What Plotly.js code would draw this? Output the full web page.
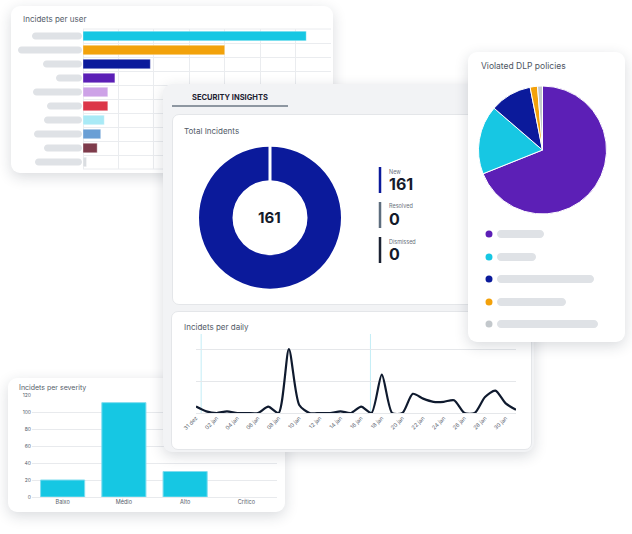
<!DOCTYPE html>
<html><head><meta charset="utf-8">
<script src="https://cdn.plot.ly/plotly-3.0.1.min.js"></script>
<style>
html,body{margin:0;padding:0;background:#fff;width:632px;height:534px;overflow:hidden;font-family:Inter,sans-serif;}
.card{position:absolute;background:#fff;border-radius:9px;box-shadow:0 4px 14px rgba(30,40,60,0.17);overflow:hidden;}
.inner{position:absolute;background:#fff;border-radius:7px;border:1px solid #e4e6e9;box-sizing:border-box;}
.plot{position:absolute;left:0;top:0;}
</style></head><body>
<div id="userCard" class="card" style="left:11px;top:6px;width:322px;height:167px;z-index:1"><div id="userPlot" class="plot"></div></div>
<div id="sevCard" class="card" style="left:8px;top:378px;width:277px;height:134px;z-index:2"><div id="sevPlot" class="plot"></div></div>
<div id="secCard" class="card" style="left:163px;top:84px;width:371px;height:368px;z-index:3;background:#f2f3f5">
  <div class="inner" style="left:9px;top:30px;width:360px;height:191px"></div>
  <div class="inner" style="left:8px;top:227px;width:361px;height:139px"></div>
  <div id="secPlot" class="plot"></div>
</div>
<div id="dlpCard" class="card" style="left:468px;top:52px;width:157px;height:290px;z-index:4"><div id="dlpPlot" class="plot"></div></div>
<script>
// ---------------- DATA ----------------
const userNames = ['Usuário 1','Usuário 2','Usuário 3','Usuário 4','Usuário 5','Usuário 6','Usuário 7','Usuário 8','Usuário 9','Usuário 10'];
const userIncidents = [63, 40, 19, 9, 7, 7, 6, 5, 4, 1];

const severityLevels = ['Baixo', 'Médio', 'Alto', 'Crítico'];
const severityCounts = [20, 111, 30, 0];

const statusLabels = ['New', 'Resolved', 'Dismissed'];
const statusCounts = [161, 0, 0];
const totalIncidents = 161;

const dlpPolicies = ['Política 1', 'Política 2', 'Política 3', 'Política 4', 'Política 5'];
const dlpCounts = [111, 28, 17, 3, 2];

const dayLabels = ['31 dez','01 jan','02 jan','03 jan','04 jan','05 jan','06 jan','07 jan','08 jan','09 jan',
  '10 jan','11 jan','12 jan','13 jan','14 jan','15 jan','16 jan','17 jan','18 jan','19 jan','20 jan',
  '21 jan','22 jan','23 jan','24 jan','25 jan','26 jan','27 jan','28 jan','29 jan','30 jan','31 jan'];
const dailyIncidents = [4, 1, 0, 1, 0, 0, 0, 4, 0, 40, 5, 0, 0, 0, 1, 0, 4, 0, 24, 0, 0, 12, 9, 7, 7, 8, 0, 0, 10, 14, 6, 2];

// ---------------- STYLE ----------------
const FONT = 'Inter, "Open Sans", sans-serif';
const userColors = ['#16c7e3','#f2a20b','#0b1a9b','#5b1fb6','#cda2e7','#dc3648','#a9eaf6','#6a9fd5','#7e3b4b','#dadde1'];
const userPillLen = [50, 64, 39, 26, 49, 35, 38, 48, 38, 47];
const statusColors = ['#0b1a9b', '#5d6d7e', '#1b2233'];
const dlpColors = ['#5c1fb6', '#17c7e3', '#0b1a9b', '#f3a10a', '#c3c8cc'];
const dlpPillEnd = [76, 68, 126, 98, 130];
const PILL = '#dfe2e6';
const GRID = '#eaecef';
const cfg = {staticPlot: true, displayModeBar: false};

function conv(W, H, m) {
  return {
    x: p => (p - m.l) / (W - m.l - m.r),
    y: p => 1 - (p - m.t) / (H - m.t - m.b)
  };
}
function note(c, px, py, text, size, color, o) {
  o = o || {};
  return Object.assign({xref: 'paper', yref: 'paper', x: c.x(px), y: c.y(py), text: text, showarrow: false,
    xanchor: 'left', yanchor: 'middle', font: {family: FONT, size: size, color: color, weight: o.weight || 400}}, o.extra || {});
}
function pill(c, x0, x1, yc, h, color) {
  const r = h / 2, L = x1 - x0, k = 0.552 * r;
  const f = v => v.toFixed(2);
  const path = 'M ' + f(r) + ',' + f(r) + ' L ' + f(L - r) + ',' + f(r) +
    ' C ' + f(L - r + k) + ',' + f(r) + ' ' + f(L) + ',' + f(k) + ' ' + f(L) + ',0' +
    ' C ' + f(L) + ',' + f(-k) + ' ' + f(L - r + k) + ',' + f(-r) + ' ' + f(L - r) + ',' + f(-r) +
    ' L ' + f(r) + ',' + f(-r) +
    ' C ' + f(r - k) + ',' + f(-r) + ' 0,' + f(-k) + ' 0,0' +
    ' C 0,' + f(k) + ' ' + f(r - k) + ',' + f(r) + ' ' + f(r) + ',' + f(r) + ' Z';
  return {type: 'path', xref: 'paper', yref: 'paper', xsizemode: 'pixel', ysizemode: 'pixel',
    xanchor: c.x(x0), yanchor: c.y(yc), path: path, fillcolor: color, line: {width: 0}, layer: 'above'};
}
function dot(c, xc, yc, r, color) {
  return {type: 'circle', xref: 'paper', yref: 'paper', xsizemode: 'pixel', ysizemode: 'pixel',
    xanchor: c.x(xc), yanchor: c.y(yc), x0: -r, x1: r, y0: -r, y1: r, fillcolor: color, line: {width: 0}, layer: 'above'};
}
const transparent = 'rgba(0,0,0,0)';

// ---------------- USER CARD ----------------
(function () {
  const W = 322, H = 167, m = {l: 72, r: 2, t: 23, b: 4};
  const c = conv(W, H, m);
  const rowH = (H - m.t - m.b) / userNames.length;
  const shapes = userNames.map((_, i) => pill(c, 71 - userPillLen[i], 71, m.t + (i + 0.5) * rowH, 7, PILL));
  // outer frame lines of the grid (top & right edges)
  shapes.push({type: 'line', xref: 'paper', yref: 'paper', x0: 0, x1: 1, y0: 1, y1: 1, line: {color: GRID, width: 1}, layer: 'below'});
  shapes.push({type: 'line', xref: 'paper', yref: 'paper', x0: 0, x1: 1, y0: 0, y1: 0, line: {color: GRID, width: 1}, layer: 'below'});
  Plotly.newPlot('userPlot', [{
    type: 'bar', orientation: 'h', y: userNames, x: userIncidents,
    marker: {color: userColors, line: {width: 1, color: 'rgba(255,255,255,0.35)'}}, hoverinfo: 'skip'
  }], {
    width: W, height: H, margin: m, paper_bgcolor: transparent, plot_bgcolor: transparent,
    bargap: 0.32, showlegend: false, font: {family: FONT},
    xaxis: {range: [0, 70], tick0: 0, dtick: 10, showticklabels: false, ticks: '', showgrid: true, gridcolor: GRID,
      gridwidth: 1, zeroline: true, zerolinecolor: GRID, zerolinewidth: 1, showline: false},
    yaxis: {type: 'category', autorange: 'reversed', tickmode: 'linear', tick0: 0, dtick: 1, tickson: 'boundaries',
      showgrid: true, gridcolor: GRID, gridwidth: 1, showticklabels: false, ticks: '', zeroline: false, showline: false},
    shapes: shapes,
    annotations: [note(c, 10, 12.5, 'Incidets per user', 8, '#555d6a')]
  }, cfg);
})();

// ---------------- SEVERITY CARD ----------------
(function () {
  const W = 277, H = 134, m = {l: 24, r: 8, t: 17, b: 15};
  const c = conv(W, H, m);
  Plotly.newPlot('sevPlot', [{
    type: 'bar', x: severityLevels, y: severityCounts,
    marker: {color: '#16c7e3', line: {color: '#7fdcef', width: severityCounts.map(v => v > 0 ? 1 : 0)}}, hoverinfo: 'skip'
  }], {
    width: W, height: H, margin: m, paper_bgcolor: transparent, plot_bgcolor: transparent,
    bargap: 0.28, showlegend: false, font: {family: FONT},
    xaxis: {type: 'category', ticks: '', showgrid: false, showline: false, zeroline: false,
      tickfont: {size: 5.5, color: '#555d6a'}},
    yaxis: {range: [0, 120], tick0: 0, dtick: 20, ticks: '', showgrid: true, gridcolor: '#e8eaed',
      zeroline: true, zerolinecolor: '#e8eaed', showline: false, tickfont: {size: 5, color: '#555d6a'}},
    annotations: [note(c, 9, 9.3, 'Incidets per severity', 7, '#555d6a')]
  }, cfg);
})();

// ---------------- SECURITY INSIGHTS CARD ----------------
(function () {
  const W = 371, H = 368, m = {l: 0, r: 0, t: 0, b: 0};
  const c = conv(W, H, m);
  const cx = 107, cy = 133.7, R = 71, r = 37.5;
  const even = dayLabels.filter((_, i) => i % 2 === 0);
  const yTop = 49.4;
  const shapes = [
    {type: 'line', xref: 'paper', yref: 'paper', x0: c.x(9), x1: c.x(125), y0: c.y(22), y1: c.y(22),
      line: {color: '#6c7885', width: 1.5}, layer: 'above'},
    {type: 'line', xref: 'paper', yref: 'paper', x0: c.x(cx), x1: c.x(cx), y0: c.y(cy - R - 1), y1: c.y(cy - r + 1),
      line: {color: '#ffffff', width: 3}, layer: 'above'},
    {type: 'line', xref: 'x', yref: 'y', x0: 0.5, x1: 0.5, y0: 0, y1: yTop, line: {color: '#c3edf6', width: 1}, layer: 'below'},
    {type: 'line', xref: 'x', yref: 'y', x0: 16.9, x1: 16.9, y0: 0, y1: yTop, line: {color: '#c3edf6', width: 1}, layer: 'below'}
  ];
  const legendTop = [83, 118, 153];
  statusLabels.forEach((s, i) => {
    shapes.push({type: 'line', xref: 'paper', yref: 'paper', x0: c.x(217), x1: c.x(217),
      y0: c.y(legendTop[i]), y1: c.y(legendTop[i] + 26), line: {color: statusColors[i], width: 2.5}, layer: 'above'});
  });
  const ann = [
    note(c, 66.5, 13.7, 'SECURITY INSIGHTS', 7.5, '#1b2130', {weight: 700, extra: {xanchor: 'center'}}),
    note(c, 19, 47, 'Total Incidents', 8, '#535b68'),
    note(c, cx, cy, String(totalIncidents), 15, '#141a2a', {weight: 700, extra: {xanchor: 'center'}}),
    note(c, 19, 243, 'Incidets per daily', 8, '#535b68')
  ];
  statusLabels.forEach((s, i) => {
    ann.push(note(c, 224.5, legendTop[i] + 4.5, s, 5.5, '#6a717c'));
    ann.push(note(c, 223.5, legendTop[i] + 17, String(statusCounts[i]), 16, '#141a2a', {weight: 700}));
  });
  Plotly.newPlot('secPlot', [
    {type: 'pie', values: statusCounts, labels: statusLabels, marker: {colors: statusColors, line: {width: 0}},
      hole: r / R, sort: false, direction: 'clockwise', rotation: 0, textinfo: 'none', hoverinfo: 'skip',
      domain: {x: [c.x(cx - R), c.x(cx + R)], y: [c.y(cy + R), c.y(cy - R)]}, showlegend: false},
    {type: 'scatter', mode: 'lines', x: dayLabels, y: dailyIncidents,
      line: {color: '#0f1a2e', width: 2.2, shape: 'spline', smoothing: 0.7}, hoverinfo: 'skip', xaxis: 'x', yaxis: 'y'}
  ], {
    width: W, height: H, margin: m, paper_bgcolor: transparent, plot_bgcolor: transparent,
    showlegend: false, font: {family: FONT},
    xaxis: {type: 'category', domain: [c.x(33), c.x(353)], range: [0, 31], tickmode: 'array', tickvals: even, ticktext: even,
      tickangle: -45, ticks: '', showgrid: false, zeroline: false, showline: false,
      tickfont: {size: 5.5, color: '#59616d'}, anchor: 'y'},
    yaxis: {domain: [c.y(329), c.y(250)], range: [0, yTop], tick0: 0, dtick: 20, showticklabels: false, ticks: '',
      showgrid: true, gridcolor: '#e5e7ea', zeroline: true, zerolinecolor: '#e5e7ea', showline: false, anchor: 'x'},
    shapes: shapes, annotations: ann
  }, cfg);
})();

// ---------------- DLP CARD ----------------
(function () {
  const W = 157, H = 290, m = {l: 0, r: 0, t: 0, b: 0};
  const c = conv(W, H, m);
  const cx = 74.5, cy = 98, R = 64;
  const rows = [182, 205, 227, 250, 272];
  const shapes = [];
  dlpPolicies.forEach((p, i) => {
    shapes.push(dot(c, 21, rows[i], 3.5, dlpColors[i]));
    shapes.push(pill(c, 29, dlpPillEnd[i], rows[i], 8, PILL));
  });
  Plotly.newPlot('dlpPlot', [{
    type: 'pie', values: dlpCounts, labels: dlpPolicies, marker: {colors: dlpColors, line: {color: '#ffffff', width: 1}},
    sort: false, direction: 'clockwise', rotation: 0, textinfo: 'none', hoverinfo: 'skip', showlegend: false,
    domain: {x: [c.x(cx - R), c.x(cx + R)], y: [c.y(cy + R), c.y(cy - R)]}
  }], {
    width: W, height: H, margin: m, paper_bgcolor: transparent, plot_bgcolor: transparent, font: {family: FONT},
    showlegend: false, shapes: shapes,
    annotations: [note(c, 11, 14, 'Violated DLP policies', 8.5, '#4d5562')]
  }, cfg);
})();
</script>
</body></html>
